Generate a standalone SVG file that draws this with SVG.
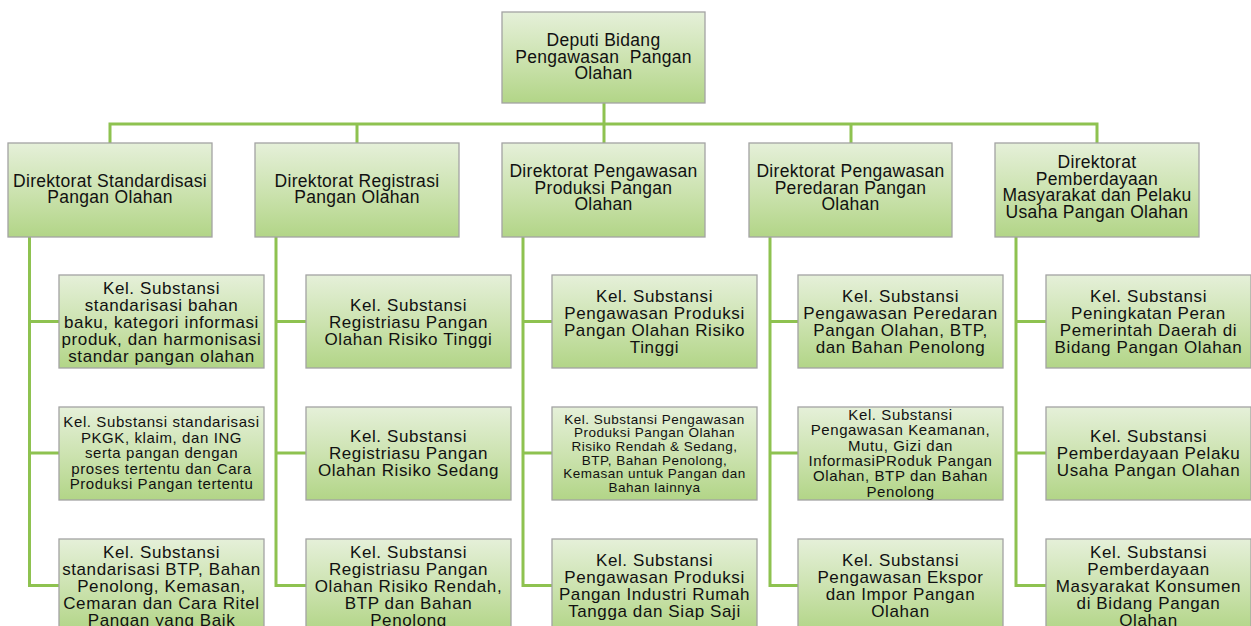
<svg xmlns="http://www.w3.org/2000/svg" width="1251" height="626" viewBox="0 0 1251 626">
<defs>
<linearGradient id="g" x1="0" y1="0" x2="0" y2="1">
<stop offset="0" stop-color="#E5F0D9"/>
<stop offset="0.5" stop-color="#CDE3B1"/>
<stop offset="1" stop-color="#B2D587"/>
</linearGradient>
</defs>
<style>
.box{fill:url(#g);stroke:#A3A3A3;stroke-width:1.3}
.ln{fill:none;stroke:#8EC250;stroke-width:3;stroke-linejoin:miter}
text{font-family:"Liberation Sans",Arial,sans-serif;fill:#111;text-anchor:middle}
.t18{font-size:17.5px;letter-spacing:0.3px}
.t17{font-size:17px;letter-spacing:0.6px}
.t15{font-size:15px;letter-spacing:0.6px}
.t13{font-size:13.5px;letter-spacing:0.5px}
</style>
<rect width="1251" height="626" fill="#fff"/>
<g id="connectors">
<path class="ln" d="M604 103V124M110 143V124H1097V143M357 124V143M604 124V143M851 124V143"/>
<path class="ln" d="M29.5 237V585.5H59M29.5 321.5H59M29.5 453H59"/>
<path class="ln" d="M276 237V585.5H306M276 321.5H306M276 453H306"/>
<path class="ln" d="M523 237V585.5H552M523 321.5H552M523 453H552"/>
<path class="ln" d="M770 237V585.5H798M770 321.5H798M770 453H798"/>
<path class="ln" d="M1016 237V585.5H1046M1016 321.5H1046M1016 453H1046"/>
</g>
<g id="deputi"><rect class="box" x="502" y="12" width="203" height="91"/>
<text class="t18"><tspan x="603.5" y="46">Deputi Bidang</tspan><tspan x="603.5" y="62.5">Pengawasan&#160; Pangan</tspan><tspan x="603.5" y="79">Olahan</tspan></text></g>

<g id="dir1"><rect class="box" x="8" y="143" width="204" height="94"/>
<text class="t18"><tspan x="110" y="186.5">Direktorat Standardisasi</tspan><tspan x="110" y="203">Pangan Olahan</tspan></text></g>
<g id="dir2"><rect class="box" x="255" y="143" width="204" height="94"/>
<text class="t18"><tspan x="357" y="186.5">Direktorat Registrasi</tspan><tspan x="357" y="203">Pangan Olahan</tspan></text></g>
<g id="dir3"><rect class="box" x="502" y="143" width="203" height="94"/>
<text class="t18"><tspan x="603.5" y="177">Direktorat Pengawasan</tspan><tspan x="603.5" y="193.5">Produksi Pangan</tspan><tspan x="603.5" y="210">Olahan</tspan></text></g>
<g id="dir4"><rect class="box" x="749" y="143" width="203" height="94"/>
<text class="t18"><tspan x="850.5" y="177">Direktorat Pengawasan</tspan><tspan x="850.5" y="193.5">Peredaran Pangan</tspan><tspan x="850.5" y="210">Olahan</tspan></text></g>
<g id="dir5"><rect class="box" x="995" y="143" width="204" height="94"/>
<text class="t18"><tspan x="1097" y="168">Direktorat</tspan><tspan x="1097" y="184.5">Pemberdayaan</tspan><tspan x="1097" y="201">Masyarakat dan Pelaku</tspan><tspan x="1097" y="217.5">Usaha Pangan Olahan</tspan></text></g>

<g id="s1a"><rect class="box" x="59" y="275" width="205" height="93"/>
<text class="t17"><tspan x="161.5" y="293.5">Kel. Substansi</tspan><tspan x="161.5" y="310.5">standarisasi bahan</tspan><tspan x="161.5" y="327.5">baku, kategori informasi</tspan><tspan x="161.5" y="344.5">produk, dan harmonisasi</tspan><tspan x="161.5" y="361.5">standar pangan olahan</tspan></text></g>
<g id="s1b"><rect class="box" x="59" y="407" width="205" height="93"/>
<text class="t15"><tspan x="161.5" y="427">Kel. Substansi standarisasi</tspan><tspan x="161.5" y="442.6">PKGK, klaim, dan ING</tspan><tspan x="161.5" y="458.2">serta pangan dengan</tspan><tspan x="161.5" y="473.8">proses tertentu dan Cara</tspan><tspan x="161.5" y="489.4">Produksi Pangan tertentu</tspan></text></g>
<g id="s1c"><rect class="box" x="59" y="539" width="205" height="93"/>
<text class="t17"><tspan x="161.5" y="557.5">Kel. Substansi</tspan><tspan x="161.5" y="574.5">standarisasi BTP, Bahan</tspan><tspan x="161.5" y="591.5">Penolong, Kemasan,</tspan><tspan x="161.5" y="608.5">Cemaran dan Cara Ritel</tspan><tspan x="161.5" y="625.5">Pangan yang Baik</tspan></text></g>

<g id="s2a"><rect class="box" x="306" y="275" width="205" height="93"/>
<text class="t17"><tspan x="408.5" y="310.5">Kel. Substansi</tspan><tspan x="408.5" y="327.5">Registriasu Pangan</tspan><tspan x="408.5" y="344.5">Olahan Risiko Tinggi</tspan></text></g>
<g id="s2b"><rect class="box" x="306" y="407" width="205" height="93"/>
<text class="t17"><tspan x="408.5" y="442">Kel. Substansi</tspan><tspan x="408.5" y="459">Registriasu Pangan</tspan><tspan x="408.5" y="476">Olahan Risiko Sedang</tspan></text></g>
<g id="s2c"><rect class="box" x="306" y="539" width="205" height="93"/>
<text class="t17"><tspan x="408.5" y="557.5">Kel. Substansi</tspan><tspan x="408.5" y="574.5">Registriasu Pangan</tspan><tspan x="408.5" y="591.5">Olahan Risiko Rendah,</tspan><tspan x="408.5" y="608.5">BTP dan Bahan</tspan><tspan x="408.5" y="625.5">Penolong</tspan></text></g>

<g id="s3a"><rect class="box" x="552" y="275" width="205" height="93"/>
<text class="t17"><tspan x="654.5" y="302">Kel. Substansi</tspan><tspan x="654.5" y="319">Pengawasan Produksi</tspan><tspan x="654.5" y="336">Pangan Olahan Risiko</tspan><tspan x="654.5" y="353">Tinggi</tspan></text></g>
<g id="s3b"><rect class="box" x="552" y="407" width="205" height="93"/>
<text class="t13"><tspan x="654.5" y="423.5">Kel. Substansi Pengawasan</tspan><tspan x="654.5" y="437.2">Produksi Pangan Olahan</tspan><tspan x="654.5" y="450.9">Risiko Rendah &amp; Sedang,</tspan><tspan x="654.5" y="464.6">BTP, Bahan Penolong,</tspan><tspan x="654.5" y="478.3">Kemasan untuk Pangan dan</tspan><tspan x="654.5" y="492">Bahan lainnya</tspan></text></g>
<g id="s3c"><rect class="box" x="552" y="539" width="205" height="93"/>
<text class="t17"><tspan x="654.5" y="566">Kel. Substansi</tspan><tspan x="654.5" y="583">Pengawasan Produksi</tspan><tspan x="654.5" y="600">Pangan Industri Rumah</tspan><tspan x="654.5" y="617">Tangga dan Siap Saji</tspan></text></g>

<g id="s4a"><rect class="box" x="798" y="275" width="205" height="93"/>
<text class="t17"><tspan x="900.5" y="302">Kel. Substansi</tspan><tspan x="900.5" y="319">Pengawasan Peredaran</tspan><tspan x="900.5" y="336">Pangan Olahan, BTP,</tspan><tspan x="900.5" y="353">dan Bahan Penolong</tspan></text></g>
<g id="s4b"><rect class="box" x="798" y="407" width="205" height="93"/>
<text class="t15"><tspan x="900.5" y="419.8">Kel. Substansi</tspan><tspan x="900.5" y="435.2">Pengawasan Keamanan,</tspan><tspan x="900.5" y="450.6">Mutu, Gizi dan</tspan><tspan x="900.5" y="466">InformasiPRoduk Pangan</tspan><tspan x="900.5" y="481.4">Olahan, BTP dan Bahan</tspan><tspan x="900.5" y="496.8">Penolong</tspan></text></g>
<g id="s4c"><rect class="box" x="798" y="539" width="205" height="93"/>
<text class="t17"><tspan x="900.5" y="566">Kel. Substansi</tspan><tspan x="900.5" y="583">Pengawasan Ekspor</tspan><tspan x="900.5" y="600">dan Impor Pangan</tspan><tspan x="900.5" y="617">Olahan</tspan></text></g>

<g id="s5a"><rect class="box" x="1046" y="275" width="205" height="93"/>
<text class="t17"><tspan x="1148.5" y="302">Kel. Substansi</tspan><tspan x="1148.5" y="319">Peningkatan Peran</tspan><tspan x="1148.5" y="336">Pemerintah Daerah di</tspan><tspan x="1148.5" y="353">Bidang Pangan Olahan</tspan></text></g>
<g id="s5b"><rect class="box" x="1046" y="407" width="205" height="93"/>
<text class="t17"><tspan x="1148.5" y="442">Kel. Substansi</tspan><tspan x="1148.5" y="459">Pemberdayaan Pelaku</tspan><tspan x="1148.5" y="476">Usaha Pangan Olahan</tspan></text></g>
<g id="s5c"><rect class="box" x="1046" y="539" width="205" height="93"/>
<text class="t17"><tspan x="1148.5" y="557.5">Kel. Substansi</tspan><tspan x="1148.5" y="574.5">Pemberdayaan</tspan><tspan x="1148.5" y="591.5">Masyarakat Konsumen</tspan><tspan x="1148.5" y="608.5">di Bidang Pangan</tspan><tspan x="1148.5" y="625.5">Olahan</tspan></text></g>
</svg>
